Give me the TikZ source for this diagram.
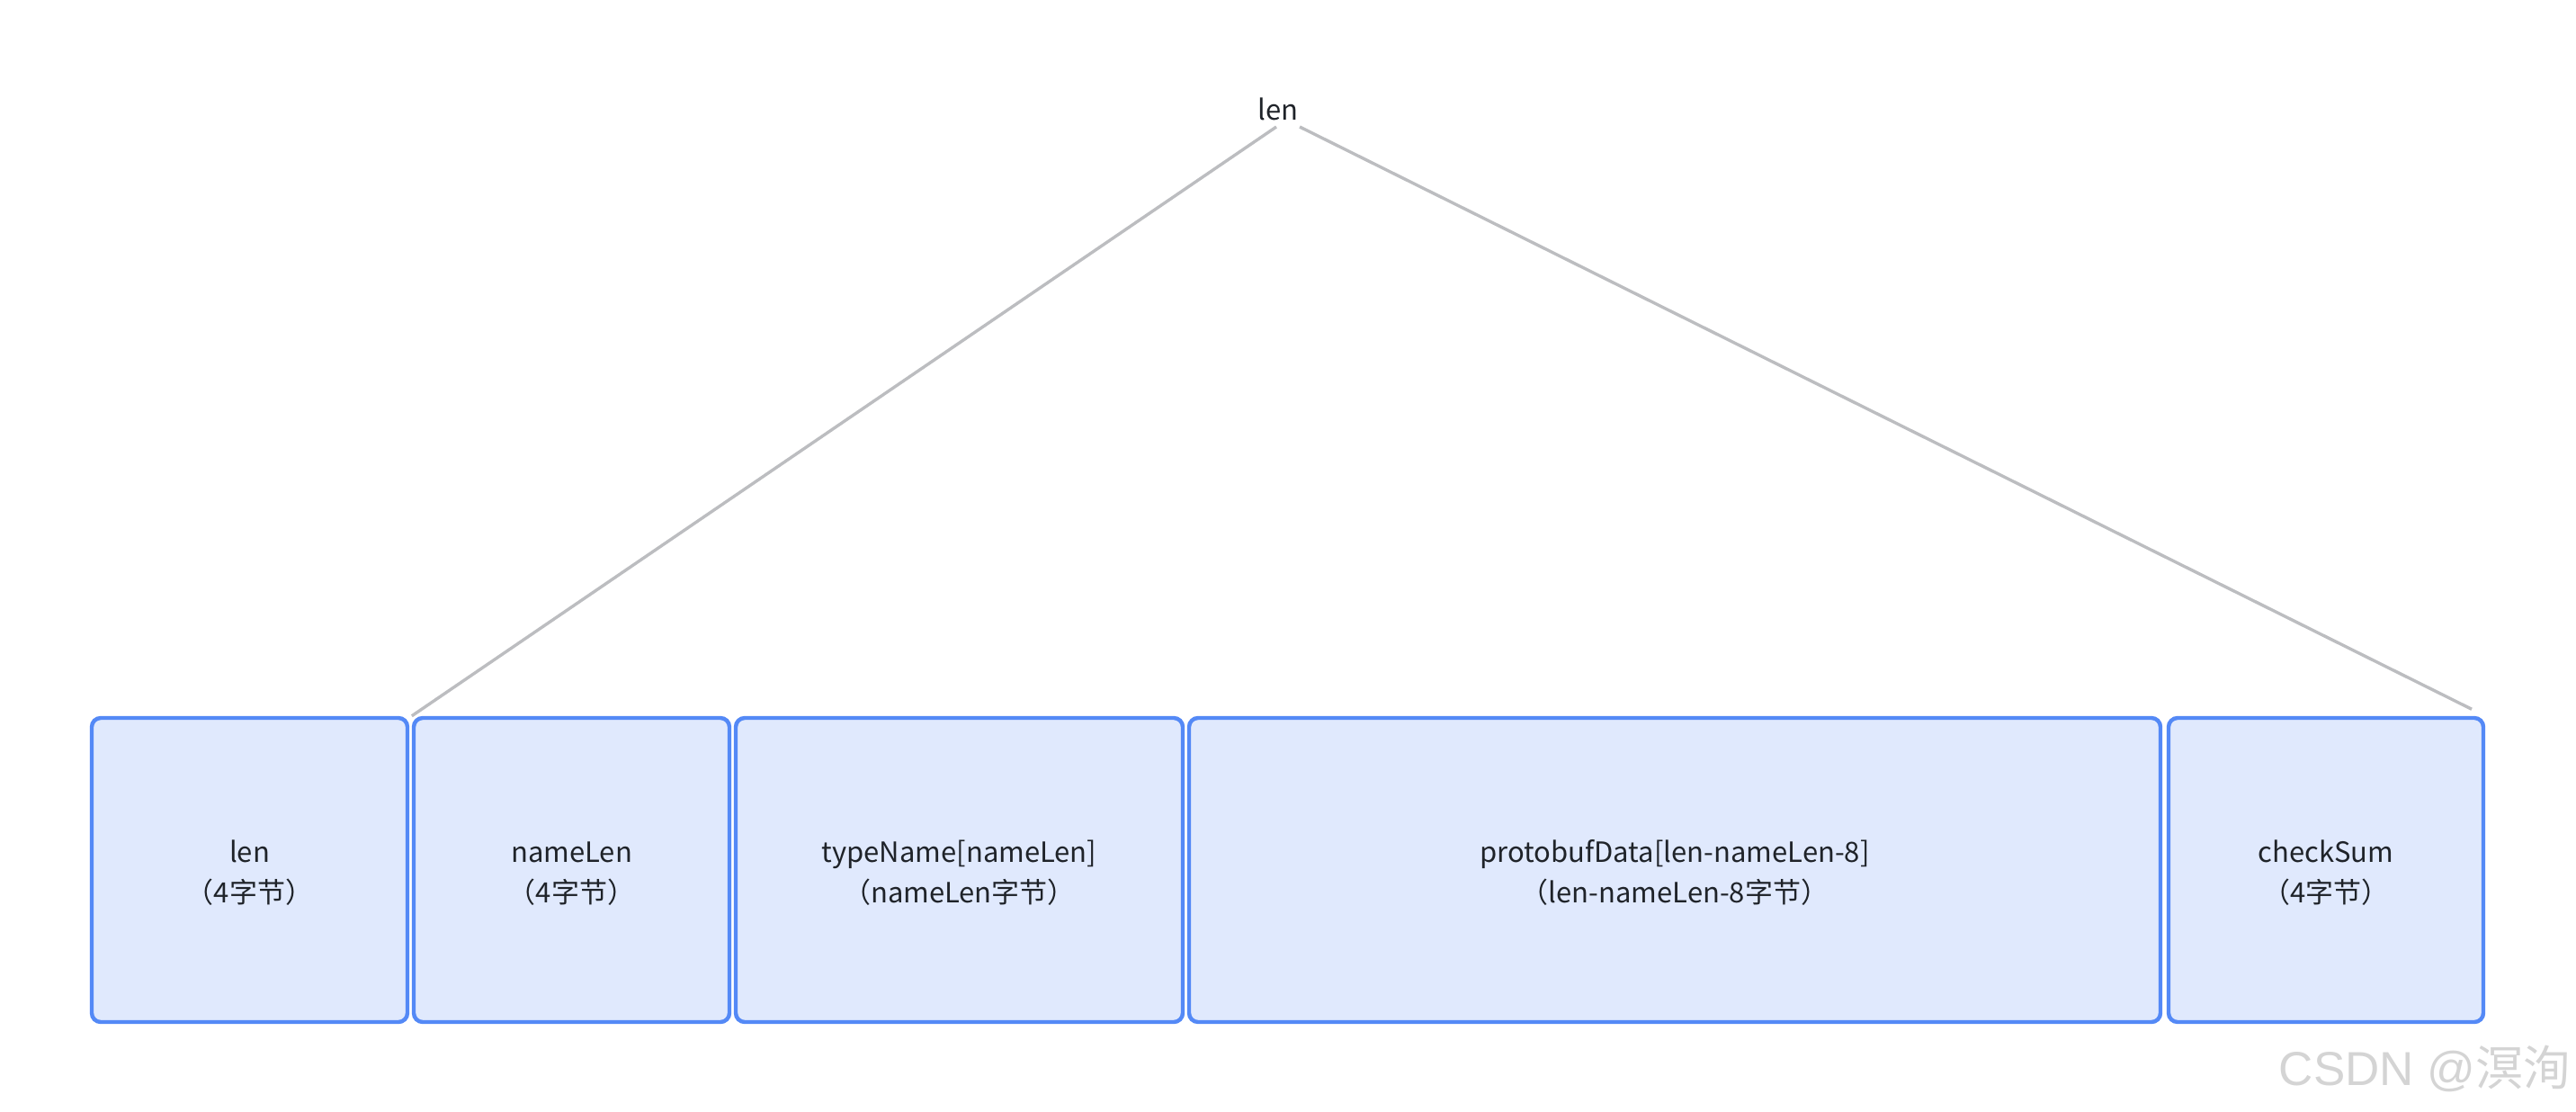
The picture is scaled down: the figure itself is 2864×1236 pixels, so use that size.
\documentclass[tikz,border=0pt]{standalone}
\usepackage{fontspec}
\setmainfont{Noto Sans CJK SC}
\newfontfamily\cjk{Noto Sans CJK SC}
\newfontfamily\wmfont{Liberation Sans}
\definecolor{boxfill}{HTML}{E0E9FD}
\definecolor{boxline}{HTML}{5489F6}
\definecolor{linkgray}{HTML}{BCBDC0}
\definecolor{txt}{HTML}{1F2329}
\definecolor{wmgray}{HTML}{D4D4D4}
\newcommand{\tstrut}{\rule{0pt}{16pt}}
\newcommand{\bstrut}{\rule[-2.5pt]{0pt}{2.5pt}}
\tikzset{
  fieldbox/.style={draw=boxline, fill=boxfill, line width=2.2pt, rounded corners=5pt,
    minimum height=169pt, inner sep=0pt, align=center, text=txt,
    font=\fontsize{15.5}{22.5}\selectfont},
  toplabel/.style={inner sep=0pt, text=txt, font=\fontsize{15.5}{22.5}\selectfont},
  link/.style={draw=linkgray, line width=1.7pt},
  watermark/.style={inner sep=0pt, text=wmgray, font=\fontsize{26.5}{30}\selectfont}
}
\begin{document}
\begin{tikzpicture}[x=0.5pt, y=-0.5pt]
\useasboundingbox (0,0) rectangle (2864,1236);
\node[fieldbox, minimum width=175.5pt] (b1) at (277.5,967) {\tstrut len\\（4字节）\bstrut};
\node[fieldbox, minimum width=175.5pt] (b2) at (635.5,967) {\tstrut nameLen\\（4字节）\bstrut};
\node[fieldbox, minimum width=248.5pt] (b3) at (1066.5,967) {\tstrut typeName[nameLen]\\（nameLen字节）\bstrut};
\node[fieldbox, minimum width=540pt] (b4) at (1862,967) {\tstrut protobufData[len-nameLen-8]\\（len-nameLen-8字节）\bstrut};
\node[fieldbox, minimum width=175pt] (b5) at (2586,967) {\tstrut checkSum\\（4字节）\bstrut};
\node[toplabel] (top) at (1421,121) {len};
\coordinate (topL) at (1419,141);
\coordinate (topR) at (1445,141);
\draw[link] (topL) -- (b2.north west);
\draw[link, shorten >=8.5pt] (topR) -- (b5.north east);
\node[watermark, anchor=base east] (wm) at (2859,1206) {\wmfont CSDN @\cjk 溟洵};
\end{tikzpicture}
\end{document}
